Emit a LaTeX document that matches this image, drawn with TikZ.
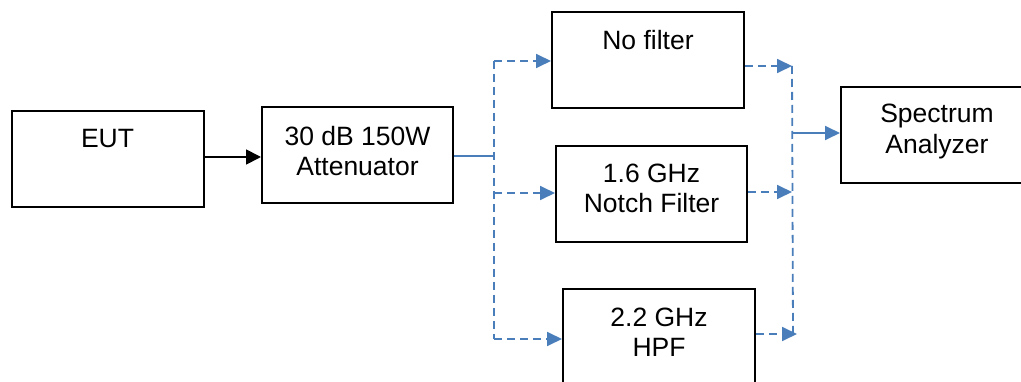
\documentclass[tikz,border=0pt]{standalone}
\usepackage{fontspec}
\setmainfont{Liberation Sans}
\usetikzlibrary{arrows.meta,calc}
\definecolor{lineblue}{HTML}{4A7EBB}
\tikzset{
  blk/.style={draw=black, line width=2pt, fill=white, inner sep=0pt},
  lbl/.style={font=\fontsize{26.5}{30.5}\selectfont, align=center, anchor=base, inner sep=0pt},
  blkarrow/.style={draw=black, line width=1.8pt, -{Triangle[length=15pt,width=15pt]}},
  bluesolid/.style={draw=lineblue, line width=1.8pt},
  bluedash/.style={draw=lineblue, line width=1.8pt, dash pattern=on 8pt off 5pt},
  bluetip/.style={-{Triangle[length=15pt,width=14pt]}}
}
\begin{document}
\begin{tikzpicture}[x=1pt,y=-1pt]
\clip (0,0) rectangle (1021,382);
\fill[white] (0,0) rectangle (1021,382);
% boxes
\node[blk, minimum width=192pt, minimum height=96pt] (eut) at (107.5,159.5) {};
\node[blk, minimum width=191pt, minimum height=96pt] (att) at (357.5,155) {};
\node[blk, minimum width=192pt, minimum height=96pt] (nof) at (648,60) {};
\node[blk, minimum width=191pt, minimum height=96pt] (notch) at (651.5,194) {};
\node[blk, minimum width=192pt, minimum height=110pt] (hpf) at (659,344) {};
\node[blk, minimum width=192pt, minimum height=96pt] (sa) at (937,135) {};
% labels (base anchor = last line baseline)
\node[lbl] (eutl) at (107.5,148) {EUT};
\node[lbl] (attl) at (357.5,176) {30 dB 150W\\Attenuator};
\node[lbl] (nofl) at (648,49.5) {No filter};
\node[lbl] (notchl) at (651.5,213) {1.6 GHz\\Notch Filter};
\node[lbl] (hpfl) at (659,356.5) {2.2 GHz\\HPF};
\node[lbl] (sal) at (937,153.5) {Spectrum\\Analyzer};
% junction coordinates
\coordinate (jl) at (494,156);
\coordinate (jlt) at (494,61);
\coordinate (jlm) at (494,193);
\coordinate (jlb) at (494,339);
\coordinate (jrt) at (792,66);
\coordinate (jrm) at (792,192);
\coordinate (jrb) at (793,334);
\coordinate (jrbt) at (797,334);
\coordinate (jr) at (793,133);
% connectors
\draw[blkarrow] (eut.east |- 0,157) -- (att.west |- 0,157);
\draw[bluesolid] (att.east |- jl) -- (jl);
\draw[bluedash] (jlt) -- (jlb);
\draw[bluedash, bluetip] (jlt) -- (nof.west |- jlt);
\draw[bluedash, bluetip] (jlm) -- (notch.west |- jlm);
\draw[bluedash, bluetip] (jlb) -- (hpf.west |- jlb);
\draw[bluedash] (jrt) -- (jrb);
\draw[bluedash, bluetip] (nof.east |- jrt) -- (jrt);
\draw[bluedash, bluetip] (notch.east |- jrm) -- (jrm);
\draw[bluedash, bluetip] (hpf.east |- jrb) -- (jrbt);
\draw[bluesolid, bluetip] (jr) -- (sa.west |- jr);
\end{tikzpicture}
\end{document}
